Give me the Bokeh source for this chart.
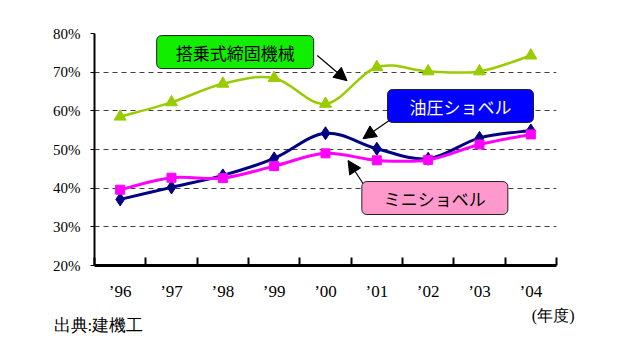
import numpy as np
from bokeh.plotting import figure
from bokeh.layouts import column, row
from bokeh.models import (ColumnDataSource, FixedTicker, Range1d, Label, Arrow,
                          NormalHead, PrintfTickFormatter)
from bokeh.core.properties import value
from bokeh.embed import file_html
from bokeh.resources import INLINE

years = ["’96", "’97", "’98", "’99", "’00", "’01", "’02", "’03", "’04"]
tojou = [58.5, 62.2, 67.0, 68.5, 61.8, 71.3, 70.2, 70.2, 74.3]
yuatsu = [37.1, 40.2, 43.3, 47.7, 54.2, 50.2, 47.6, 53.0, 54.9]
mini = [39.6, 42.7, 42.6, 45.7, 49.0, 47.2, 47.3, 51.3, 53.9]
y_ticks = [20, 30, 40, 50, 60, 70, 80]

x = np.arange(len(years), dtype=float)

SERIF = "Liberation Serif"
JP = "Noto Sans CJK JP"

p = figure(frame_width=462, frame_height=232, output_backend="svg", toolbar_location=None,
           x_range=Range1d(-0.5, len(years) - 0.5), y_range=Range1d(20, 80),
           min_border_left=94, min_border_right=56, min_border_top=33,
           min_border_bottom=0)
p.outline_line_color = None
p.background_fill_color = "white"
p.border_fill_color = "white"

# axes
p.xaxis.ticker = FixedTicker(ticks=list(x), minor_ticks=list(np.arange(-0.5, len(years), 1.0)))
p.xaxis.major_label_overrides = {int(i): lab for i, lab in enumerate(years)}
p.xaxis.major_tick_in = 0
p.xaxis.major_tick_out = 0
p.xaxis.minor_tick_in = 8
p.xaxis.minor_tick_out = 0
p.xaxis.minor_tick_line_color = "black"
p.xaxis.minor_tick_line_width = 2
p.xaxis.axis_line_width = 3
p.xaxis.axis_line_color = "black"
p.xaxis.major_label_standoff = 16
p.xaxis.major_label_text_font = SERIF
p.xaxis.major_label_text_font_size = "17px"
p.xaxis.major_label_text_color = "black"

p.yaxis.ticker = FixedTicker(ticks=y_ticks)
p.yaxis.formatter = PrintfTickFormatter(format="%d%%")
p.yaxis.major_tick_in = 0
p.yaxis.major_tick_out = 4
p.yaxis.minor_tick_line_color = None
p.yaxis.axis_line_width = 2
p.yaxis.axis_line_color = "black"
p.yaxis.major_tick_line_color = "black"
p.yaxis.major_label_standoff = 10
p.yaxis.major_label_text_font = SERIF
p.yaxis.major_label_text_font_size = "15px"
p.yaxis.major_label_text_color = "black"

p.xgrid.grid_line_color = None
p.ygrid.grid_line_color = "#404040"
p.ygrid.grid_line_dash = "5 4"
p.ygrid.grid_line_width = 1


def smooth(xs, ys):
    xs = np.asarray(xs, float)
    ys = np.asarray(ys, float)
    px = np.concatenate([[xs[0]], xs, [xs[-1]]])
    py = np.concatenate([[ys[0]], ys, [ys[-1]]])
    n = len(xs)
    d = dict(x0=[], y0=[], x1=[], y1=[], cx0=[], cy0=[], cx1=[], cy1=[])
    for i in range(n - 1):
        j = i + 1
        d["x0"].append(xs[i]); d["y0"].append(ys[i])
        d["x1"].append(xs[i + 1]); d["y1"].append(ys[i + 1])
        d["cx0"].append(xs[i] + (px[j + 1] - px[j - 1]) / 6)
        d["cy0"].append(ys[i] + (py[j + 1] - py[j - 1]) / 6)
        d["cx1"].append(xs[i + 1] - (px[j + 2] - px[j]) / 6)
        d["cy1"].append(ys[i + 1] - (py[j + 2] - py[j]) / 6)
    return ColumnDataSource(d)


series = [
    (tojou, "#99cc00", 2.5, "triangle", 12),
    (yuatsu, "#000080", 3, "diamond", 13),
    (mini, "#ff00ff", 3, "square", 9),
]
for ys, col, lw, mk, sz in series:
    p.bezier(x0="x0", y0="y0", x1="x1", y1="y1", cx0="cx0", cy0="cy0",
             cx1="cx1", cy1="cy1", source=smooth(x, ys), line_color=col, line_width=lw)
    p.scatter(x, ys, marker=mk, size=sz, fill_color=col, line_color=col)

# callout labels
def callout(text, cx, cy, fill, tcolor, pad_x, pad_y):
    lab = Label(x=cx, y=cy, text=text, text_align="center", text_baseline="middle",
                text_font=JP, text_font_size="17px", text_color=tcolor,
                background_fill_color=fill, border_line_color="#222222",
                border_line_width=1, border_radius=5,
                padding=dict(left=pad_x, right=pad_x, top=pad_y, bottom=pad_y))
    p.add_layout(lab)

callout("搭乗式締固機械", 2.24, 75.2, "#11ee00", "black", 19, 4)
callout("油圧ショベル", 6.63, 61.25, "#0000ff", "white", 22, 4)
callout("ミニショベル", 6.13, 37.45, "#ff99cc", "black", 22, 4)

for xs, ys, xe, ye in [(3.84, 74.3, 4.42, 67.8), (5.24, 57.5, 4.73, 52.8),
                       (4.73, 41.2, 4.44, 47.15)]:
    p.add_layout(Arrow(x_start=xs, y_start=ys, x_end=xe, y_end=ye,
                       line_color="black", line_width=1.2,
                       end=NormalHead(size=13, fill_color="black", line_color="black")))

# strip below the chart for the unit and source notes (pixel coordinates)
p2 = figure(width=612, height=50, output_backend="svg", toolbar_location=None,
            x_range=Range1d(0, 612), y_range=Range1d(50, 0),
            x_axis_type=None, y_axis_type=None, min_border=0,
            min_border_left=0, min_border_right=0, min_border_top=0,
            min_border_bottom=0)
p2.outline_line_color = None
p2.grid.grid_line_color = None
p2.border_fill_color = "white"
p2.text(x=[574], y=[12], text=["(年度)"], text_align="right", text_baseline="middle",
        text_font=value(SERIF), text_font_size="16px", text_color="black")
p2.text(x=[53], y=[22], text=["出典:建機工"], text_align="left", text_baseline="middle",
        text_font=value(SERIF), text_font_size="17px", text_color="black")

layout = column(p, row(p2), spacing=0)
open("out.html", "w").write(file_html(layout, INLINE))
